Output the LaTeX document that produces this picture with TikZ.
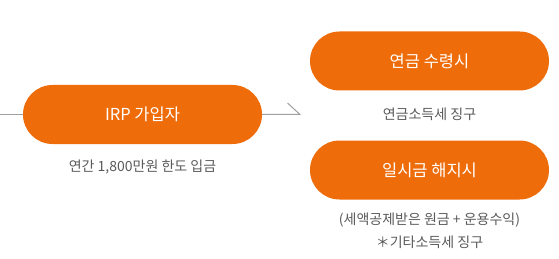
\documentclass[tikz,border=0pt]{standalone}
\usepackage{fontspec}
\setmainfont{Noto Sans CJK KR}
\usepackage{tikz}

\definecolor{irporange}{RGB}{238,108,10}
\definecolor{linegray}{RGB}{160,160,160}
\definecolor{textgray}{RGB}{90,90,90}

\begin{document}
\begin{tikzpicture}[x=1pt, y=-1pt,
  pill/.style={fill=irporange, rounded corners=29.5pt, minimum width=239pt, minimum height=59pt, inner sep=0pt, text=white, font=\fontsize{16.5}{19}\selectfont},
  note/.style={text=textgray, align=center, font=\fontsize{14}{23}\selectfont},
  conn/.style={draw=linegray, line width=1pt}]
\useasboundingbox (0,0) rectangle (559,259);
\node[pill] (irp) at (142.5,114.5) {IRP 가입자};
\node[note] (irpnote) at (142.5,167) {연간 1,800만원 한도 입금};
\node[pill] (pension) at (429.5,61) {연금 수령시};
\node[note] (pensionnote) at (429.5,114) {연금소득세 징구};
\node[pill] (lumpsum) at (429.5,170) {일시금 해지시};
\node[note] (lumpsumnote) at (429.5,231) {(세액공제받은 원금 + 운용수익)\\＊기타소득세 징구};
\coordinate (start) at (0,114.5);
\coordinate (tip) at (300,114.5);
\draw[conn] (start) -- (irp);
\draw[conn] (irp) -- (tip) -- ++(-12.5,-11.5);
\end{tikzpicture}
\end{document}
